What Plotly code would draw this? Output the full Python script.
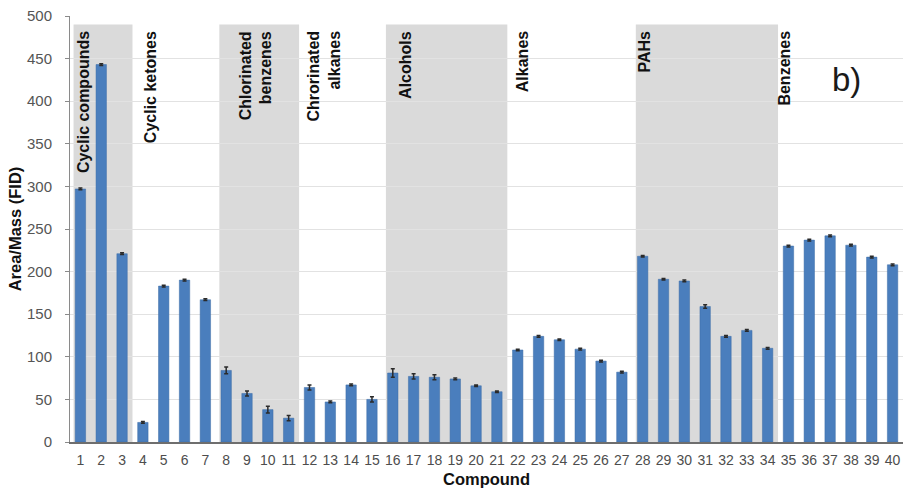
import plotly.graph_objects as go

# Compound index (x categories)
compounds = [1, 2, 3, 4, 5, 6, 7, 8, 9, 10,
             11, 12, 13, 14, 15, 16, 17, 18, 19, 20,
             21, 22, 23, 24, 25, 26, 27, 28, 29, 30,
             31, 32, 33, 34, 35, 36, 37, 38, 39, 40]

# FID response normalised by mass
area_mass = [297, 443, 221, 23, 183, 190, 167, 84, 57, 38,
             28, 64, 47, 67, 50, 81, 77, 76, 74, 66,
             59, 108, 124, 120, 109, 95, 82, 218, 191, 189,
             159, 124, 131, 110, 230, 237, 242, 231, 217, 208]

# Standard deviation of replicate injections
area_mass_sd = [1, 1, 1, 1, 1, 1, 1, 4, 3, 4,
                3, 3, 1, 1, 3, 5, 3, 3, 1, 1,
                1, 1, 1, 1, 1, 1, 1, 1, 1, 1,
                2, 1, 1, 1, 1, 1, 1, 1, 1, 1]

# Compound families
group_names = ["Cyclic compounds", "Cyclic ketones", "Chlorinated<br>benzenes",
               "Chrorinated<br>alkanes", "Alcohols", "Alkanes", "PAHs", "Benzenes"]
group_first = [1, 4, 8, 12, 16, 22, 28, 35]
group_last = [3, 7, 11, 15, 21, 27, 34, 40]
group_shaded = [True, False, True, False, True, False, True, False]

FONT = "Liberation Sans, Arial, Helvetica, sans-serif"

fig = go.Figure()
fig.add_trace(go.Bar(
    x=compounds,
    y=area_mass,
    width=0.5,
    marker=dict(color="#4a7ebd", line=dict(color="#3d6ca6", width=0.5)),
    error_y=dict(type="data", array=area_mass_sd, visible=True,
                 color="#2a2a2a", thickness=1.5, width=2),
    showlegend=False,
))

# Grey bands behind alternating families
shapes = []
for first, last, shade in zip(group_first, group_last, group_shaded):
    if shade:
        shapes.append(dict(type="rect", xref="x", yref="y",
                           x0=first - 0.33, x1=last + 0.5, y0=0, y1=490,
                           fillcolor="#dadada", line=dict(width=0),
                           layer="below"))

# Vertical family labels, aligned at the top of the bands
label_shift = [0.14, 0.36, 1.43, 0.71, 0.64, 0.2, 0.1, -0.2]
annotations = []
for name, first, shift in zip(group_names, group_first, label_shift):
    annotations.append(dict(
        x=first + shift, y=485, xref="x", yref="y",
        text="<b>" + name.replace("<br>", "</b><br><b>") + "</b>",
        textangle=-90, showarrow=False,
        xanchor="center", yanchor="top", align="right",
        font=dict(family=FONT, size=16, color="#111111"),
    ))
annotations.append(dict(
    x=37.8, y=425, xref="x", yref="y", text="b)", showarrow=False,
    xanchor="center", yanchor="middle",
    font=dict(family=FONT, size=33, color="#1a1a1a"),
))

fig.update_layout(
    width=907, height=496,
    margin=dict(l=70, r=4, t=16, b=54),
    paper_bgcolor="white", plot_bgcolor="white",
    font=dict(family=FONT),
    shapes=shapes,
    annotations=annotations,
    bargap=0.5,
)

fig.update_xaxes(
    range=[0.5, 40.5], tickmode="array", tickvals=compounds,
    ticktext=[str(c) for c in compounds],
    showgrid=False, zeroline=False,
    showline=True, linecolor="#6e6e6e", linewidth=1.5,
    ticks="", tickfont=dict(family=FONT, size=14, color="#4d4d4d"),
    ticklabelstandoff=4,
    title=dict(text="<b>Compound</b>", standoff=7,
               font=dict(family=FONT, size=16.5, color="#111111")),
)
fig.update_yaxes(
    range=[0, 500], tick0=0, dtick=50,
    showgrid=True, gridcolor="#e2e2e2", gridwidth=1,
    zeroline=False,
    showline=True, linecolor="#8a8a8a", linewidth=1,
    ticks="outside", ticklen=4, tickcolor="#8a8a8a",
    tickfont=dict(family=FONT, size=15, color="#555555"),
    ticklabelstandoff=10,
    title=dict(text="<b>Area/Mass (FID)</b>", standoff=1,
               font=dict(family=FONT, size=16.5, color="#111111")),
)

fig.write_html("out.html")
